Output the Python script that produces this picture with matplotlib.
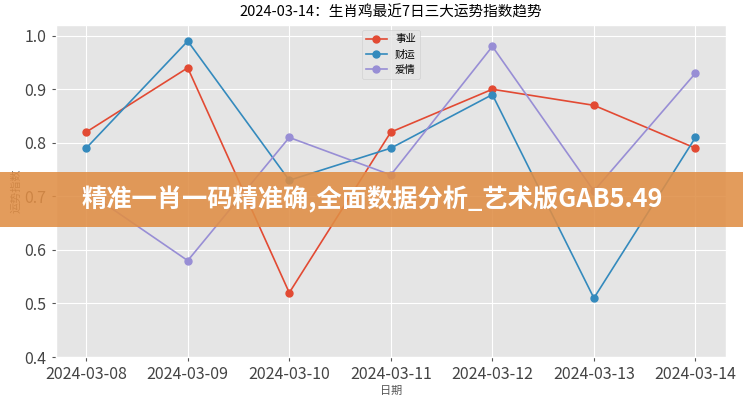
import pandas as pd
import matplotlib
matplotlib.use("Agg")
import matplotlib.pyplot as plt
import matplotlib.dates as mdates
from matplotlib.patches import Rectangle

dates = ["2024-03-08", "2024-03-09", "2024-03-10", "2024-03-11",
         "2024-03-12", "2024-03-13", "2024-03-14"]
career = [0.82, 0.94, 0.52, 0.82, 0.90, 0.87, 0.79]
wealth = [0.79, 0.99, 0.73, 0.79, 0.89, 0.51, 0.81]
love = [0.71, 0.58, 0.81, 0.74, 0.98, 0.71, 0.93]
series_names = ["事业", "财运", "爱情"]
title = "2024-03-14：生肖鸡最近7日三大运势指数趋势"
banner = "精准一肖一码精准确,全面数据分析_艺术版GAB5.49"

plt.style.use("ggplot")
plt.rcParams["font.family"] = ["Noto Sans CJK SC", "DejaVu Sans"]

x = pd.to_datetime(dates)

fig = plt.figure(figsize=(7.43, 4.0), dpi=100)
ax = fig.add_axes([0.075, 0.1075, 0.902, 0.83])

for vals, name in zip([career, wealth, love], series_names):
    ax.plot(x, vals, marker="o", markersize=5, linewidth=1.2, label=name)

ax.set_ylim(0.4, 1.02)
ax.xaxis.set_major_locator(mdates.DayLocator())
ax.xaxis.set_major_formatter(mdates.DateFormatter("%Y-%m-%d"))
ax.tick_params(axis="both", labelsize=11.5, colors="#555555", length=3)
ax.tick_params(axis="both", labelcolor="#444444")

ax.set_title(title, fontsize=10.5, color="black", pad=6)
ax.set_xlabel("日期", fontsize=8, color="#555555", labelpad=2)
ax.set_ylabel("运势指数", fontsize=8, color="#555555", labelpad=2)
ax.legend(loc="upper center", fontsize=7.5, bbox_to_anchor=(0.5, 1.0))

# overlay banner
fig.patches.append(Rectangle((0, 0.4325), 1, 0.1375, transform=fig.transFigure,
                             facecolor="#E08E45", alpha=0.88, edgecolor="none",
                             zorder=10))
fig.text(0.11, 0.5, banner, fontsize=18.2, fontweight="bold", color="white",
         va="center", ha="left", zorder=11)

fig.savefig("out.png", dpi=100)
